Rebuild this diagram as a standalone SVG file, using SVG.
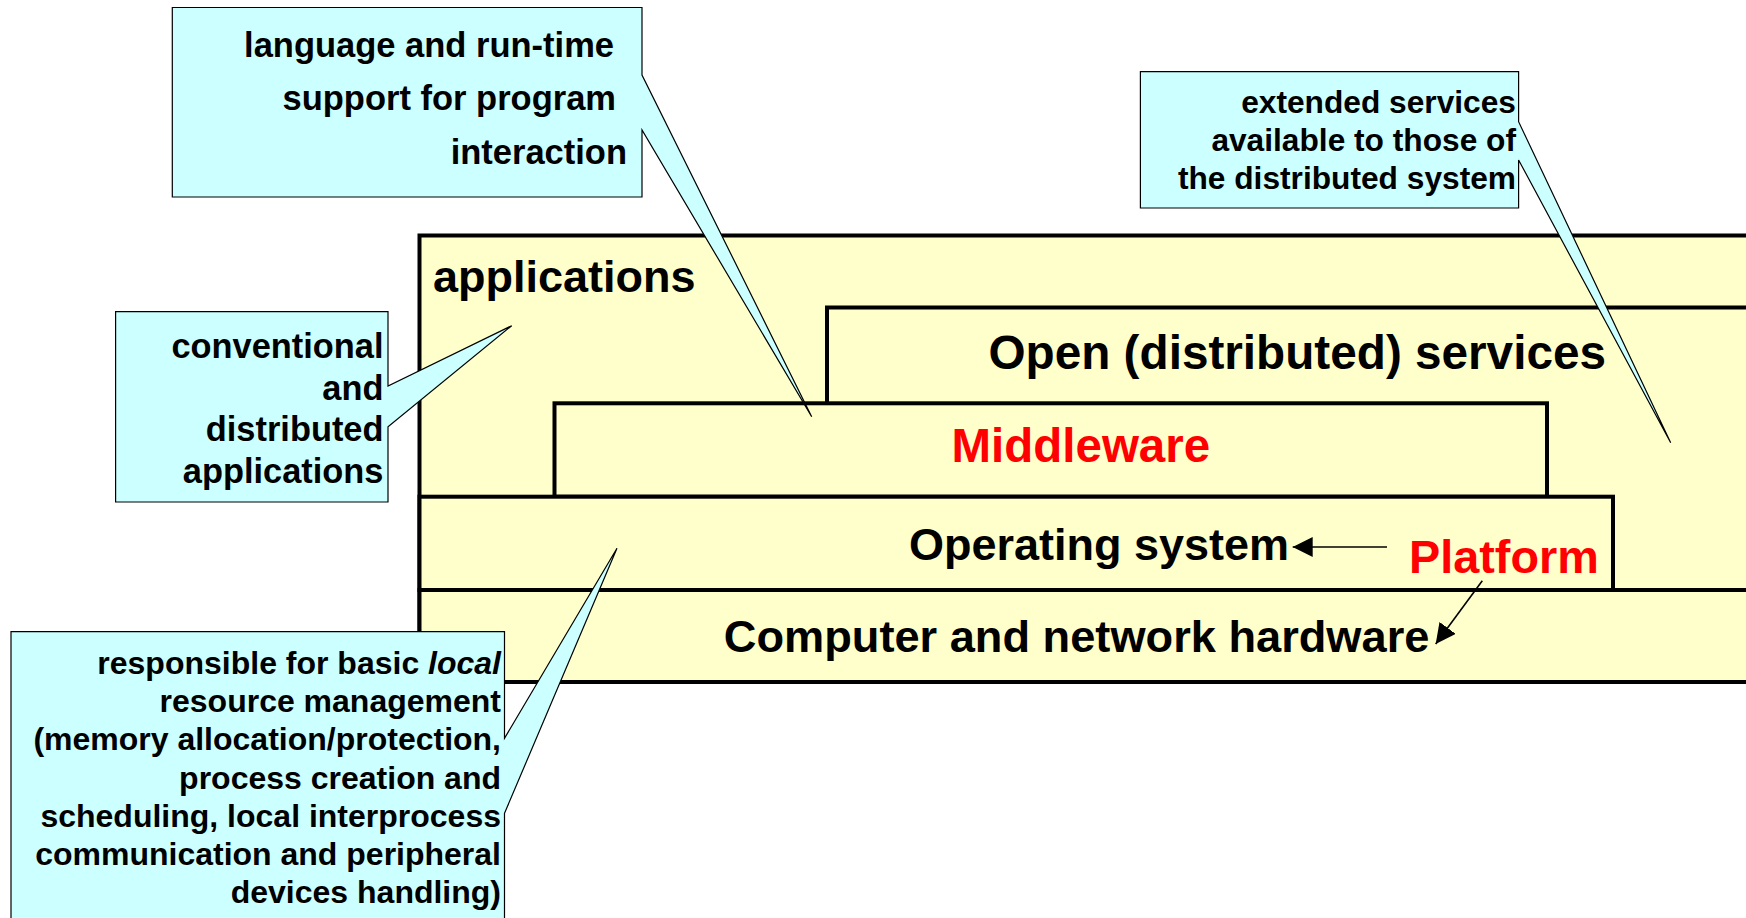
<svg xmlns="http://www.w3.org/2000/svg" width="1746" height="918" viewBox="0 0 1746 918">
<style>
.layer{fill:#FFFFCC;stroke:#000;stroke-width:4;}
.callout{fill:#CCFFFF;stroke:#000;stroke-width:1.2;stroke-linejoin:miter;}
text{font-family:"Liberation Sans",Arial,sans-serif;font-weight:bold;fill:#000;}
.red{fill:#FF0000;}
.ct{text-anchor:end;}
.conn{stroke:#000;stroke-width:1.6;fill:none;}
</style>
<defs>
<marker id="ah" markerWidth="21" markerHeight="20" refX="20" refY="10" orient="auto" markerUnits="userSpaceOnUse">
<path d="M0,0 L20,10 L0,20 Z" fill="#000"/>
</marker>
</defs>
<rect width="1746" height="918" fill="#FFFFFF"/>

<g id="applications">
<rect class="layer" x="419.5" y="235.5" width="1400" height="446"/>
<text x="433" y="291.5" font-size="45">applications</text>
</g>

<g id="open-services">
<rect class="layer" x="827" y="307.5" width="1000" height="282.5"/>
<text x="988.5" y="369" font-size="47.7">Open (distributed) services</text>
</g>

<g id="middleware">
<rect class="layer" x="554.5" y="403.3" width="992.5" height="93.4"/>
<text class="red" x="951.5" y="462" font-size="47.5">Middleware</text>
</g>

<g id="operating-system">
<rect class="layer" x="419.5" y="496.7" width="1193.5" height="93.3"/>
<text x="909" y="560.3" font-size="45">Operating system</text>
</g>

<g id="hardware">
<rect class="layer" x="419.5" y="590" width="1400" height="92"/>
<text x="723.8" y="652" font-size="45.2">Computer and network hardware</text>
</g>

<g id="platform">
<text class="red" x="1409" y="572.5" font-size="46.8">Platform</text>
</g>

<g id="connectors">
<line class="conn" x1="1387" y1="547" x2="1292.7" y2="547" marker-end="url(#ah)"/>
<line class="conn" x1="1482.3" y1="580.7" x2="1435.7" y2="644" marker-end="url(#ah)"/>
</g>

<g id="callout-language">
<path class="callout" d="M172.3,7.5 H642 V75 L811.7,416.7 L642,130 V197 H172.3 Z"/>
<text class="ct" x="614" y="56.5" font-size="34.5">language and run-time</text>
<text class="ct" x="616" y="110" font-size="34.5">support for program</text>
<text class="ct" x="627" y="163.5" font-size="34.5">interaction</text>
</g>

<g id="callout-extended">
<path class="callout" d="M1140.4,71.7 H1518.6 V121.7 L1670.7,442.7 L1518.6,160 V208 H1140.4 Z"/>
<text class="ct" x="1516" y="113.3" font-size="31.7">extended services</text>
<text class="ct" x="1516" y="151" font-size="31.7">available to those of</text>
<text class="ct" x="1516" y="188.7" font-size="31.7">the distributed system</text>
</g>

<g id="callout-applications">
<path class="callout" d="M115.6,311.7 H388 V386 L511.7,325.7 L388,426.7 V502 H115.6 Z"/>
<text class="ct" x="383.5" y="358" font-size="34.4">conventional</text>
<text class="ct" x="383.5" y="399.5" font-size="34.4">and</text>
<text class="ct" x="383.5" y="441" font-size="34.4">distributed</text>
<text class="ct" x="383.5" y="482.5" font-size="34.4">applications</text>
</g>

<g id="callout-os">
<path class="callout" d="M11,631.7 H504.5 V738.3 L617,548.3 L504.5,813.3 V935 H11 Z"/>
<text class="ct" x="501" y="674" font-size="32">responsible for basic <tspan font-style="italic">local</tspan></text>
<text class="ct" x="501" y="712.2" font-size="32">resource management</text>
<text class="ct" x="501" y="750.4" font-size="32">(memory allocation/protection,</text>
<text class="ct" x="501" y="788.6" font-size="32">process creation and</text>
<text class="ct" x="501" y="826.8" font-size="32">scheduling, local interprocess</text>
<text class="ct" x="501" y="865" font-size="32">communication and peripheral</text>
<text class="ct" x="501" y="903.2" font-size="32">devices handling)</text>
</g>
</svg>
